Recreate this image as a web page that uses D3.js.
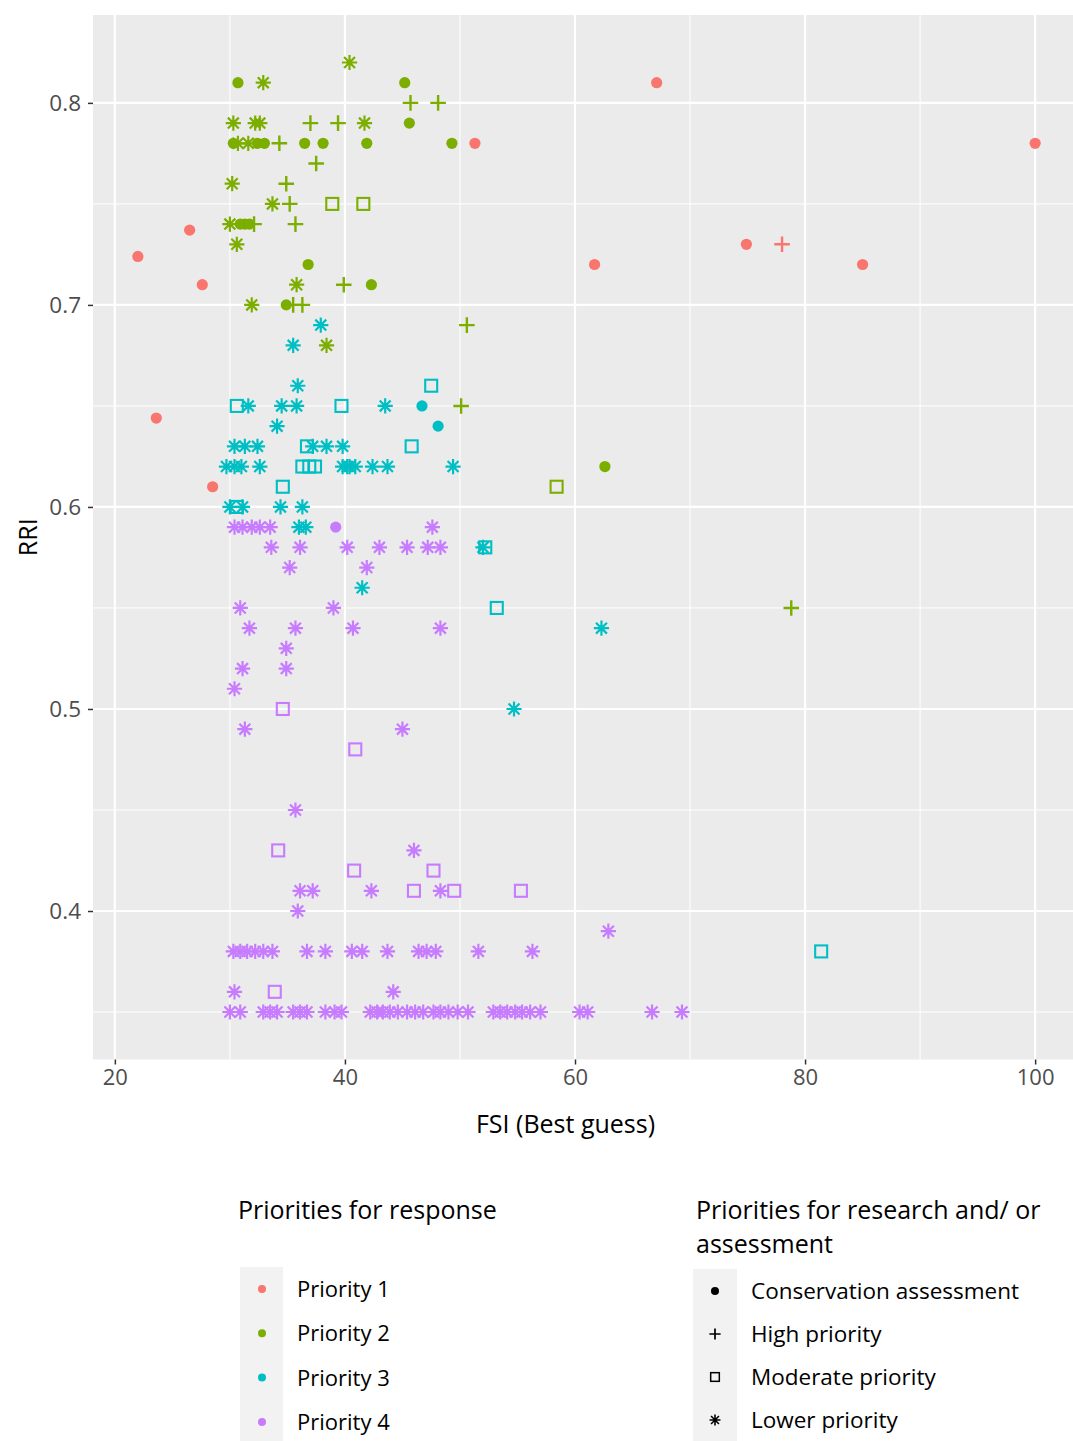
<!DOCTYPE html>
<html>
<head>
<meta charset="utf-8">
<script src="https://cdn.jsdelivr.net/npm/d3@7"></script>
<style>
  html, body { margin: 0; padding: 0; background: #ffffff; }
  svg { display: block; font-family: "Open Sans", "Liberation Sans", sans-serif; }
</style>
</head>
<body>
<svg id="chart" width="1073" height="1441"></svg>
<script>
// FSI (best guess) vs RRI, coloured by response priority and shaped by research priority.
// Each record: [FSI, RRI, research-priority code]
// codes: C = conservation assessment, H = high, M = moderate, L = lower priority
const priority1 = [
  [22.0, 0.724, "C"], [23.6, 0.644, "C"], [26.5, 0.737, "C"], [27.6, 0.710, "C"],
  [28.5, 0.610, "C"], [51.3, 0.78, "C"], [61.7, 0.72, "C"], [67.1, 0.81, "C"],
  [74.9, 0.73, "C"], [78.0, 0.73, "H"], [85.0, 0.72, "C"], [100.0, 0.78, "C"]
];

const priority2 = [
  [40.4, 0.82, "L"],
  [30.7, 0.81, "C"], [32.9, 0.81, "L"], [45.2, 0.81, "C"],
  [45.7, 0.80, "H"], [48.1, 0.80, "H"],
  [30.3, 0.79, "L"], [32.2, 0.79, "L"], [32.6, 0.79, "L"], [37.0, 0.79, "H"], [39.4, 0.79, "H"],
  [41.7, 0.79, "L"], [45.6, 0.79, "C"],
  [30.3, 0.78, "C"], [30.7, 0.78, "L"], [31.6, 0.78, "L"], [32.4, 0.78, "C"], [33.0, 0.78, "C"],
  [34.3, 0.78, "H"], [36.5, 0.78, "C"], [38.1, 0.78, "C"], [41.9, 0.78, "C"], [49.3, 0.78, "C"],
  [37.5, 0.77, "H"],
  [30.2, 0.76, "L"], [34.9, 0.76, "H"],
  [33.7, 0.75, "L"], [35.2, 0.75, "H"], [38.9, 0.75, "M"], [41.6, 0.75, "M"],
  [30.0, 0.74, "L"], [30.9, 0.74, "C"], [31.3, 0.74, "C"], [31.7, 0.74, "C"], [32.1, 0.74, "H"], [35.7, 0.74, "H"],
  [30.6, 0.73, "L"],
  [36.8, 0.72, "C"],
  [35.8, 0.71, "L"], [39.9, 0.71, "H"], [42.3, 0.71, "C"],
  [31.9, 0.70, "L"], [34.9, 0.70, "C"], [35.5, 0.70, "H"], [36.3, 0.70, "H"],
  [50.6, 0.69, "H"],
  [38.4, 0.68, "L"],
  [50.1, 0.65, "H"],
  [62.6, 0.62, "C"],
  [58.4, 0.61, "M"],
  [78.8, 0.55, "H"]
];

const priority3 = [
  [37.9, 0.69, "L"],
  [35.5, 0.68, "L"],
  [35.9, 0.66, "L"], [47.5, 0.66, "M"],
  [30.6, 0.65, "M"], [31.6, 0.65, "L"], [34.5, 0.65, "L"], [35.8, 0.65, "L"], [39.7, 0.65, "M"],
  [43.5, 0.65, "L"], [46.7, 0.65, "C"],
  [34.1, 0.64, "L"], [48.1, 0.64, "C"],
  [30.4, 0.63, "L"], [31.3, 0.63, "L"], [32.4, 0.63, "L"], [36.7, 0.63, "M"], [37.2, 0.63, "L"],
  [38.4, 0.63, "L"], [39.8, 0.63, "L"], [45.8, 0.63, "M"],
  [29.7, 0.62, "L"], [30.4, 0.62, "L"], [31.0, 0.62, "L"], [32.6, 0.62, "L"], [36.3, 0.62, "M"],
  [36.9, 0.62, "M"], [37.4, 0.62, "M"], [39.8, 0.62, "L"], [40.2, 0.62, "L"], [40.4, 0.62, "L"],
  [40.9, 0.62, "L"], [42.4, 0.62, "L"], [43.7, 0.62, "L"], [49.4, 0.62, "L"],
  [34.6, 0.61, "M"],
  [30.0, 0.60, "L"], [30.6, 0.60, "M"], [31.1, 0.60, "L"], [34.4, 0.60, "L"], [36.3, 0.60, "L"],
  [36.0, 0.59, "L"], [36.6, 0.59, "L"],
  [52.2, 0.58, "M"], [52.0, 0.58, "L"],
  [41.5, 0.56, "L"],
  [53.2, 0.55, "M"],
  [62.3, 0.54, "L"],
  [54.7, 0.50, "L"],
  [81.4, 0.38, "M"]
];

const priority4 = [
  [30.4, 0.59, "L"], [31.1, 0.59, "L"], [31.9, 0.59, "L"], [32.6, 0.59, "L"], [33.5, 0.59, "L"],
  [39.2, 0.59, "C"], [47.6, 0.59, "L"],
  [33.6, 0.58, "L"], [36.1, 0.58, "L"], [40.2, 0.58, "L"], [43.0, 0.58, "L"], [45.4, 0.58, "L"],
  [47.2, 0.58, "L"], [48.3, 0.58, "L"],
  [35.2, 0.57, "L"], [41.9, 0.57, "L"],
  [30.9, 0.55, "L"], [39.0, 0.55, "L"],
  [31.7, 0.54, "L"], [35.7, 0.54, "L"], [40.7, 0.54, "L"], [48.3, 0.54, "L"],
  [34.9, 0.53, "L"],
  [31.1, 0.52, "L"], [34.9, 0.52, "L"],
  [30.4, 0.51, "L"],
  [34.6, 0.50, "M"],
  [31.3, 0.49, "L"], [45.0, 0.49, "L"],
  [40.9, 0.48, "M"],
  [35.7, 0.45, "L"],
  [34.2, 0.43, "M"], [46.0, 0.43, "L"],
  [40.8, 0.42, "M"], [47.7, 0.42, "M"],
  [36.1, 0.41, "L"], [37.2, 0.41, "L"], [42.3, 0.41, "L"], [46.0, 0.41, "M"], [48.3, 0.41, "L"],
  [49.5, 0.41, "M"], [55.3, 0.41, "M"],
  [35.9, 0.40, "L"],
  [62.9, 0.39, "L"],
  [30.3, 0.38, "L"], [30.9, 0.38, "L"], [31.5, 0.38, "L"], [32.2, 0.38, "L"], [32.9, 0.38, "L"],
  [33.7, 0.38, "L"], [36.7, 0.38, "L"], [38.3, 0.38, "L"], [40.6, 0.38, "L"], [41.5, 0.38, "L"],
  [43.7, 0.38, "L"], [46.4, 0.38, "L"], [47.1, 0.38, "L"], [47.9, 0.38, "L"], [51.6, 0.38, "L"],
  [56.3, 0.38, "L"],
  [30.4, 0.36, "L"], [33.9, 0.36, "M"], [44.2, 0.36, "L"],
  [30.0, 0.35, "L"], [30.9, 0.35, "L"], [32.9, 0.35, "L"], [33.5, 0.35, "L"], [34.1, 0.35, "L"],
  [35.5, 0.35, "L"], [36.1, 0.35, "L"], [36.7, 0.35, "L"], [38.3, 0.35, "L"], [39.1, 0.35, "L"],
  [39.7, 0.35, "L"], [42.2, 0.35, "L"], [42.8, 0.35, "L"], [43.3, 0.35, "L"], [43.9, 0.35, "L"],
  [44.6, 0.35, "L"], [45.4, 0.35, "L"], [46.1, 0.35, "L"], [46.8, 0.35, "L"], [47.7, 0.35, "L"],
  [48.3, 0.35, "L"], [49.0, 0.35, "L"], [49.8, 0.35, "L"], [50.7, 0.35, "L"], [52.9, 0.35, "L"],
  [53.5, 0.35, "L"], [54.1, 0.35, "L"], [54.8, 0.35, "L"], [55.4, 0.35, "L"], [56.1, 0.35, "L"],
  [57.0, 0.35, "L"], [60.4, 0.35, "L"], [61.1, 0.35, "L"], [66.7, 0.35, "L"], [69.3, 0.35, "L"]
];

const priorityLabels = ["Priority 1", "Priority 2", "Priority 3", "Priority 4"];
const priorityColors = ["#F8766D", "#7CAE00", "#00BFC4", "#C77CFF"];
const researchCodes = ["C", "H", "M", "L"];
const researchLabels = ["Conservation assessment", "High priority", "Moderate priority", "Lower priority"];

const fsiTicks = [20, 40, 60, 80, 100];
const fsiMinor = [30, 50, 70, 90];
const rriTicks = [0.4, 0.5, 0.6, 0.7, 0.8];
const rriMinor = [0.35, 0.45, 0.55, 0.65, 0.75];

// ---------- layout ----------
const svg = d3.select("#chart");
const panel = { left: 93, right: 1080, top: 15, bottom: 1059.5 };

const x = d3.scaleLinear().domain([18.1, 103.9]).range([panel.left, panel.right]);
const y = d3.scaleLinear().domain([0.3265, 0.8435]).range([panel.bottom, panel.top]);

// panel background
svg.append("rect")
  .attr("x", panel.left).attr("y", panel.top)
  .attr("width", panel.right - panel.left).attr("height", panel.bottom - panel.top)
  .attr("fill", "#EBEBEB");

const grid = svg.append("g");
grid.selectAll(".vminor").data(fsiMinor).join("line")
  .attr("x1", d => x(d)).attr("x2", d => x(d))
  .attr("y1", panel.top).attr("y2", panel.bottom)
  .attr("stroke", "#ffffff").attr("stroke-width", 1);
grid.selectAll(".hminor").data(rriMinor).join("line")
  .attr("y1", d => y(d)).attr("y2", d => y(d))
  .attr("x1", panel.left).attr("x2", panel.right)
  .attr("stroke", "#ffffff").attr("stroke-width", 1);
grid.selectAll(".vmajor").data(fsiTicks).join("line")
  .attr("x1", d => x(d)).attr("x2", d => x(d))
  .attr("y1", panel.top).attr("y2", panel.bottom)
  .attr("stroke", "#ffffff").attr("stroke-width", 2.2);
grid.selectAll(".hmajor").data(rriTicks).join("line")
  .attr("y1", d => y(d)).attr("y2", d => y(d))
  .attr("x1", panel.left).attr("x2", panel.right)
  .attr("stroke", "#ffffff").attr("stroke-width", 2.2);

// ---------- axes ----------
const xAxis = d3.axisBottom(x).tickValues(fsiTicks).tickSize(5).tickPadding(5)
  .tickFormat(d3.format("d"));
const gx = svg.append("g").attr("transform", `translate(0,${panel.bottom})`).call(xAxis);
gx.select(".domain").remove();
gx.selectAll(".tick line").attr("stroke", "#333333").attr("stroke-width", 1.5);
gx.selectAll(".tick text").attr("fill", "#4D4D4D").attr("font-size", 22)
  .attr("font-family", "Open Sans, sans-serif").attr("dy", "0.71em");

const yAxis = d3.axisLeft(y).tickValues(rriTicks).tickSize(5).tickPadding(7)
  .tickFormat(d3.format(".1f"));
const gy = svg.append("g").attr("transform", `translate(${panel.left},0)`).call(yAxis);
gy.select(".domain").remove();
gy.selectAll(".tick line").attr("stroke", "#333333").attr("stroke-width", 1.5);
gy.selectAll(".tick text").attr("fill", "#4D4D4D").attr("font-size", 22.5)
  .attr("font-family", "Open Sans, sans-serif");

svg.append("text")
  .attr("x", (panel.left + 1036) / 2 + 1).attr("y", 1133)
  .attr("text-anchor", "middle").attr("font-size", 25).attr("fill", "#000")
  .text("FSI (Best guess)");

svg.append("text")
  .attr("transform", `translate(37,${(panel.top + panel.bottom) / 2}) rotate(-90)`)
  .attr("text-anchor", "middle").attr("font-size", 25).attr("fill", "#000")
  .text("RRI");

// ---------- mark shapes ----------
function crossPath(s) {
  return `M${-s},0H${s}M0,${-s}V${s}`;
}
function asteriskPath(s) {
  const d = s * 0.72;
  return `M${-s},0H${s}M0,${-s}V${s}M${-d},${-d}L${d},${d}M${-d},${d}L${d},${-d}`;
}

function drawMark(g, code, color, scale) {
  const k = scale || 1;
  if (code === "C") {
    g.append("circle").attr("r", 5.6 * k).attr("fill", color);
  } else if (code === "H") {
    g.append("path").attr("d", crossPath(7.8 * k))
      .attr("stroke", color).attr("stroke-width", 2.4 * k).attr("fill", "none");
  } else if (code === "M") {
    const h = 6 * k;
    g.append("rect").attr("x", -h).attr("y", -h).attr("width", 2 * h).attr("height", 2 * h)
      .attr("stroke", color).attr("stroke-width", 2.1 * k).attr("fill", "none");
  } else {
    g.append("path").attr("d", asteriskPath(7.6 * k))
      .attr("stroke", color).attr("stroke-width", 2.2 * k).attr("fill", "none");
  }
}

// ---------- points ----------
const series = [priority1, priority2, priority3, priority4];
const pointsLayer = svg.append("g");
series.forEach((rows, i) => {
  pointsLayer.append("g").selectAll("g").data(rows).join("g")
    .attr("transform", d => `translate(${x(d[0])},${y(d[1])})`)
    .each(function (d) { drawMark(d3.select(this), d[2], priorityColors[i]); });
});

// ---------- legends ----------
// response priority legend
const leg1 = svg.append("g");
leg1.append("text").attr("x", 238).attr("y", 1219)
  .attr("font-size", 25).attr("fill", "#000").text("Priorities for response");
const keyStep = 44.3;
leg1.append("rect").attr("x", 240).attr("y", 1267).attr("width", 43).attr("height", keyStep * 4)
  .attr("fill", "#F2F2F2");
priorityLabels.forEach((lab, i) => {
  const cy = 1289 + i * keyStep;
  leg1.append("circle").attr("cx", 262).attr("cy", cy).attr("r", 4).attr("fill", priorityColors[i]);
  leg1.append("text").attr("x", 297).attr("y", cy + 8)
    .attr("font-size", 22).attr("fill", "#000").text(lab);
});

// research priority legend
const leg2 = svg.append("g");
leg2.append("text").attr("x", 696).attr("y", 1219)
  .attr("font-size", 25).attr("fill", "#000").text("Priorities for research and/ or");
leg2.append("text").attr("x", 696).attr("y", 1253)
  .attr("font-size", 25).attr("fill", "#000").text("assessment");
const keyStep2 = 43;
leg2.append("rect").attr("x", 693).attr("y", 1269).attr("width", 44).attr("height", keyStep2 * 4 + 2)
  .attr("fill", "#F2F2F2");
researchCodes.forEach((code, i) => {
  const cy = 1291 + i * keyStep2;
  const g = leg2.append("g").attr("transform", `translate(715,${cy})`);
  drawMark(g, code, "#000", 0.72);
  leg2.append("text").attr("x", 751).attr("y", cy + 8)
    .attr("font-size", 22.5).attr("fill", "#000").text(researchLabels[i]);
});
</script>
</body>
</html>
